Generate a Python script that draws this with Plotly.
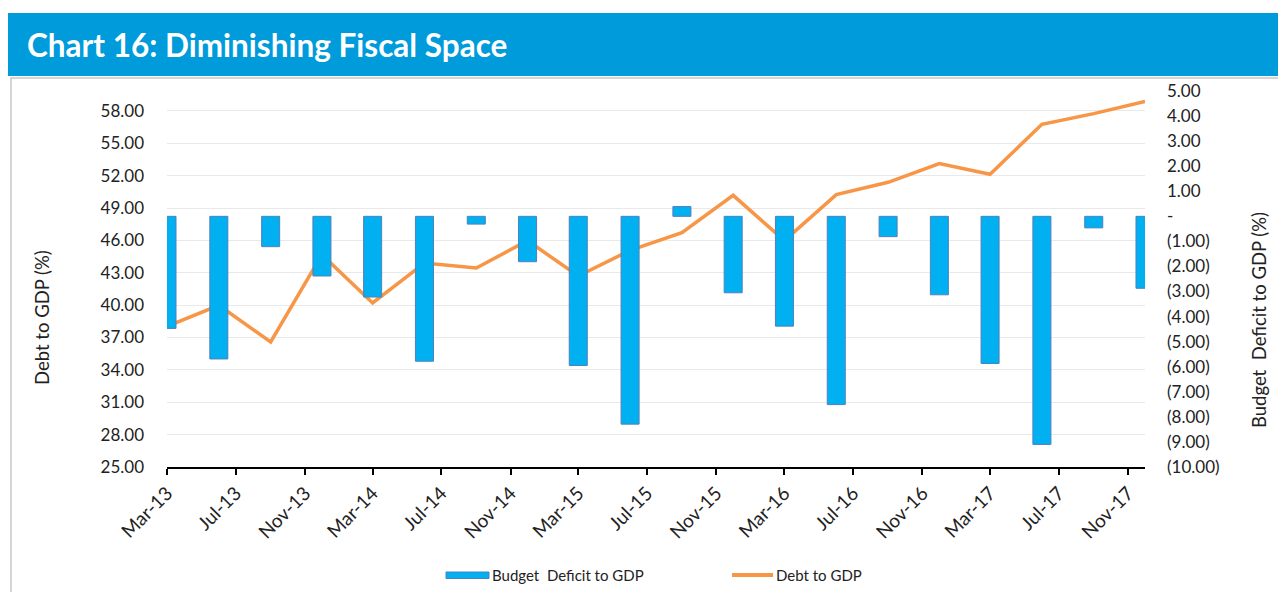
import plotly.graph_objects as go

# quarterly observations
quarters = ["2013-03-01", "2013-06-01", "2013-09-01", "2013-12-01",
            "2014-03-01", "2014-06-01", "2014-09-01", "2014-12-01",
            "2015-03-01", "2015-06-01", "2015-09-01", "2015-12-01",
            "2016-03-01", "2016-06-01", "2016-09-01", "2016-12-01",
            "2017-03-01", "2017-06-01", "2017-09-01", "2017-12-01"]

budget_deficit = [-4.47, -5.69, -1.21, -2.38, -3.22, -5.78, -0.31, -1.81,
                  -5.95, -8.29, 0.39, -3.05, -4.38, -7.51, -0.81, -3.13,
                  -5.87, -9.10, -0.46, -2.87]

debt_to_gdp = [38.04, 39.99, 36.59, 44.68, 40.20, 43.90, 43.44, 45.98,
               42.70, 45.08, 46.72, 50.18, 45.98, 50.25, 51.39, 53.12,
               52.13, 56.76, 57.75, 58.89]

x_ticks = ["2013-03-01", "2013-07-01", "2013-11-01", "2014-03-01", "2014-07-01",
           "2014-11-01", "2015-03-01", "2015-07-01", "2015-11-01", "2016-03-01",
           "2016-07-01", "2016-11-01", "2017-03-01", "2017-07-01", "2017-11-01"]
left_ticks = [25, 28, 31, 34, 37, 40, 43, 46, 49, 52, 55, 58]
right_ticks = [-10, -9, -8, -7, -6, -5, -4, -3, -2, -1, 0, 1, 2, 3, 4, 5]


def paren(v):
    if v == 0:
        return "-"
    if v < 0:
        return "(%.2f)" % abs(v)
    return "%.2f" % v


# page has an 8px body margin; figure coords = page coords - 8
OFF = 8
W, H = 1270, 584
L, R, T, B = 159, 133, 83, 125
PW, PH = W - L - R, H - T - B


def px(x):
    return (x - OFF - L) / PW


def py(y):
    return (H - B - (y - OFF)) / PH


FONT = "Lato, 'Open Sans', sans-serif"
TXT = "#222222"
BAR_BLUE = "#00B0F0"
ORANGE = "#F79646"

fig = go.Figure()

fig.add_trace(go.Bar(
    x=quarters, y=budget_deficit, yaxis="y2",
    width=32 * 24 * 3600 * 1000,
    marker=dict(color=BAR_BLUE, line=dict(color="#4F81BD", width=1)),
    name="Budget  Deficit to GDP",
))
fig.add_trace(go.Scatter(
    x=quarters, y=debt_to_gdp, mode="lines",
    line=dict(color=ORANGE, width=3.5),
    name="Debt to GDP",
))

fig.update_layout(
    width=W, height=H,
    margin=dict(l=L, r=R, t=T, b=B),
    paper_bgcolor="white", plot_bgcolor="white",
    showlegend=False,
    font=dict(family=FONT, size=17, color=TXT),
    xaxis=dict(
        type="date", range=["2013-03-01", "2017-12-01"],
        tickvals=x_ticks, tickformat="%b-%y", tickangle=-45,
        showgrid=False, showline=True, linecolor="black", linewidth=1.5,
        ticks="outside", ticklen=6, tickwidth=1.5, tickcolor="black",
        tickfont=dict(size=19),
    ),
    yaxis=dict(
        range=[25, 59.85], tickvals=left_ticks, tickformat=".2f",
        showgrid=True, gridcolor="#E9E9E9", gridwidth=1.3,
        zeroline=False, showline=False, ticks="",
        ticklabelstandoff=22, tickfont=dict(size=17),
    ),
    yaxis2=dict(
        range=[-10, 5], overlaying="y", side="right",
        tickvals=right_ticks, ticktext=[paren(v) for v in right_ticks],
        showgrid=False, zeroline=False, showline=False, ticks="",
        ticklabelstandoff=21, tickfont=dict(size=17),
    ),
)

# header band and frame
fig.add_shape(type="rect", xref="paper", yref="paper",
              x0=px(11), x1=px(1279), y0=py(605), y1=py(78),
              line=dict(color="#C8C8C8", width=1.5), fillcolor="rgba(0,0,0,0)",
              layer="below")
fig.add_shape(type="rect", xref="paper", yref="paper",
              x0=px(8), x1=px(1282), y0=py(76), y1=py(13),
              line=dict(width=0), fillcolor="#009BDB")
fig.add_annotation(xref="paper", yref="paper", x=px(25), y=py(45),
                   xanchor="left", yanchor="middle", showarrow=False,
                   text="<b>Chart 16: Diminishing Fiscal Space</b>",
                   font=dict(family=FONT, size=31.5, color="white"))

# axis titles
fig.add_annotation(xref="paper", yref="paper", x=px(42), y=py(318),
                   xanchor="center", yanchor="middle",
                   textangle=-90, showarrow=False, text="Debt to GDP (%)",
                   font=dict(family=FONT, size=18.5, color=TXT))
fig.add_annotation(xref="paper", yref="paper", x=px(1259), y=py(320),
                   xanchor="center", yanchor="middle",
                   textangle=-90, showarrow=False, text="Budget  Deficit to GDP (%)",
                   font=dict(family=FONT, size=18.5, color=TXT))

# legend
fig.add_shape(type="rect", xref="paper", yref="paper",
              x0=px(446), x1=px(489), y0=py(578.5), y1=py(572),
              fillcolor=BAR_BLUE, line=dict(color="#4F81BD", width=1))
fig.add_annotation(xref="paper", yref="paper", x=px(490), y=py(575),
                   xanchor="left", yanchor="middle", showarrow=False,
                   text="Budget  Deficit to GDP",
                   font=dict(family=FONT, size=15, color=TXT))
fig.add_shape(type="line", xref="paper", yref="paper",
              x0=px(732), x1=px(773), y0=py(575), y1=py(575),
              line=dict(color=ORANGE, width=4))
fig.add_annotation(xref="paper", yref="paper", x=px(774), y=py(575),
                   xanchor="left", yanchor="middle", showarrow=False,
                   text="Debt to GDP",
                   font=dict(family=FONT, size=15, color=TXT))

fig.write_html("out.html")
